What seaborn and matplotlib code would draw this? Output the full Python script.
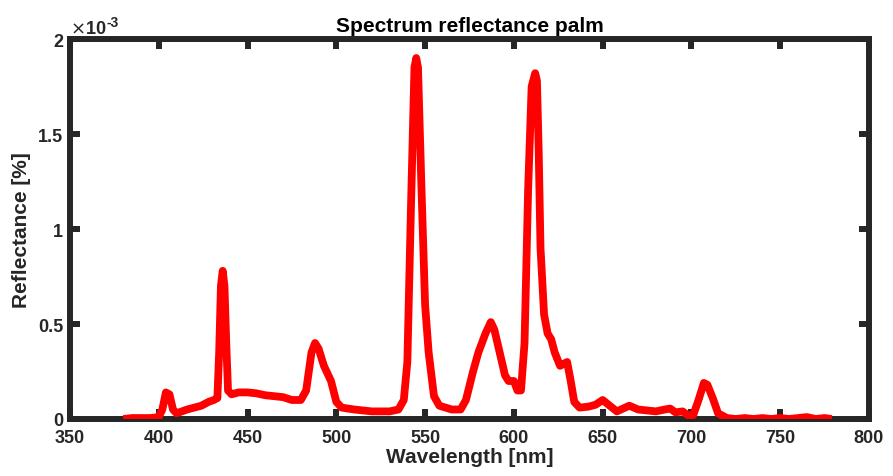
import matplotlib
matplotlib.use("Agg")
import matplotlib.pyplot as plt
import seaborn as sns
import numpy as np

# wavelength [nm]
wavelength = [380, 385, 390, 395, 400, 402, 404, 406, 408, 410, 413, 416, 420, 424, 428, 431, 433,
              434, 435, 436, 437, 438, 439, 441, 445, 450, 455, 460, 465, 470, 475, 480, 483,
              486, 488, 490, 493, 497, 500, 503, 510, 520, 530, 535, 538, 540, 542, 544, 545,
              546, 548, 550, 552, 555, 558, 565, 570, 573, 577, 580, 584, 587, 589, 592, 595,
              597, 600, 602, 604, 606, 608, 610, 612, 613, 614, 615, 617, 619, 621, 623, 626,
              628, 630, 632, 634, 637, 642, 646, 650, 654, 658, 665, 670, 675, 680, 685, 688,
              691, 695, 698, 701, 704, 707, 709, 712, 715, 720, 725, 730, 735, 740, 745, 750,
              755, 760, 765, 770, 775, 779]
# reflectance in units of 1e-3 %
reflectance = [0.0, 0.005, 0.005, 0.005, 0.01, 0.05, 0.14, 0.13, 0.05, 0.03, 0.04, 0.05, 0.06, 0.07, 0.09, 0.10, 0.11,
               0.35, 0.70, 0.78, 0.70, 0.40, 0.15, 0.13, 0.14, 0.14, 0.135, 0.125, 0.12, 0.115, 0.10, 0.10, 0.15,
               0.35, 0.40, 0.37, 0.28, 0.20, 0.09, 0.06, 0.05, 0.04, 0.04, 0.05, 0.10, 0.30, 1.10, 1.85, 1.90,
               1.85, 1.20, 0.60, 0.35, 0.12, 0.07, 0.05, 0.05, 0.10, 0.25, 0.35, 0.45, 0.51, 0.47, 0.35, 0.23,
               0.20, 0.20, 0.15, 0.15, 0.40, 1.20, 1.75, 1.82, 1.78, 1.40, 0.90, 0.55, 0.45, 0.42, 0.35, 0.28,
               0.29, 0.30, 0.20, 0.09, 0.06, 0.065, 0.075, 0.10, 0.07, 0.04, 0.07, 0.05, 0.045, 0.04, 0.05, 0.055,
               0.035, 0.04, 0.02, 0.02, 0.10, 0.19, 0.18, 0.11, 0.03, 0.005, 0.0, 0.005, 0.0, 0.005, 0.0, 0.005,
               0.0, 0.005, 0.01, 0.0, 0.005, 0.0]

x_ticks = [350, 400, 450, 500, 550, 600, 650, 700, 750, 800]
y_ticks = [0, 0.5, 1, 1.5, 2]
y_tick_labels = ["0", "0.5", "1", "1.5", "2"]

sns.set_style("white")
plt.rcParams['font.family'] = ['Liberation Sans', 'DejaVu Sans']

fig = plt.figure(figsize=(8.93, 4.77), dpi=100)
ax = fig.add_axes([0.0784, 0.1195, 0.8947, 0.7966])

sns.lineplot(x=wavelength, y=reflectance, color='#ff0000', linewidth=5.6, ax=ax,
             solid_joinstyle='round', solid_capstyle='butt')

ax.set_xlim(350, 800)
ax.set_ylim(0, 2)
ax.set_xticks(x_ticks)
ax.set_xticklabels([str(t) for t in x_ticks])
ax.set_yticks(y_ticks)
ax.set_yticklabels(y_tick_labels)

dark = '#262626'
for s in ax.spines.values():
    s.set_visible(True)
    s.set_linewidth(4.3)
    s.set_color(dark)
    s.set_zorder(1)
ax.tick_params(axis='both', direction='in', length=7, width=4.3, color=dark,
               labelsize=13, labelcolor=dark, top=True, right=True,
               bottom=True, left=True)
ax.tick_params(axis='x', pad=7)
ax.tick_params(axis='y', pad=5)
for lab in ax.get_xticklabels() + ax.get_yticklabels():
    lab.set_fontweight('bold')

ax.set_xlabel('Wavelength [nm]', fontsize=15, fontweight='bold', color=dark, labelpad=1)
ax.set_ylabel('Reflectance [%]', fontsize=15, fontweight='bold', color=dark, labelpad=5)
ax.set_title('Spectrum reflectance palm', fontsize=15, fontweight='bold', color='black', pad=6)

ax.text(0.0, 1.015, r'$\times$' + '10', transform=ax.transAxes, fontsize=13,
        fontweight='bold', color=dark, ha='left', va='baseline')
ax.text(0.046, 1.034, '-3', transform=ax.transAxes, fontsize=10,
        fontweight='bold', color=dark, ha='left', va='baseline')

fig.savefig('out.png', dpi=100, facecolor='white')
